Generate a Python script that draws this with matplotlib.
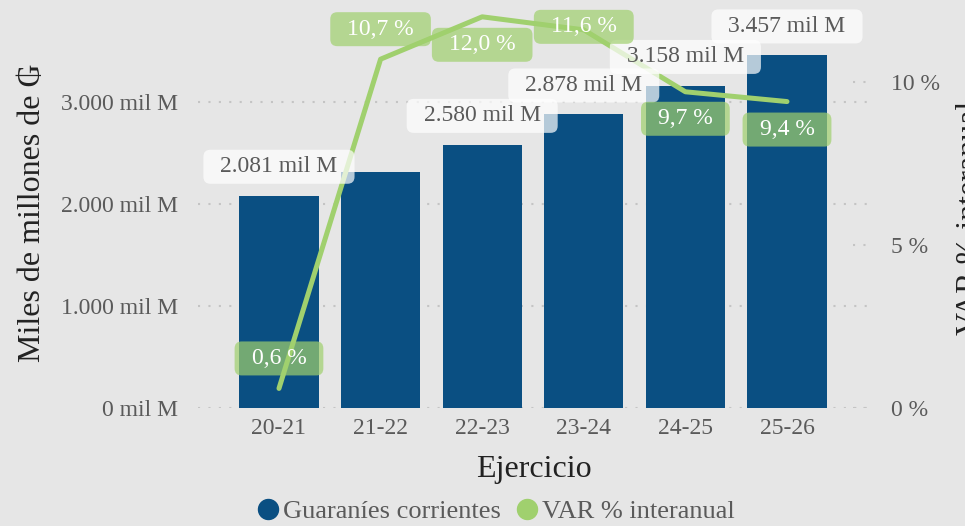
import matplotlib
matplotlib.use("Agg")
import matplotlib.pyplot as plt
from matplotlib.lines import Line2D
from matplotlib.patches import BoxStyle

plt.rcParams["font.family"] = ["Liberation Serif", "DejaVu Serif"]

ejercicios = ["20-21", "21-22", "22-23", "23-24", "24-25", "25-26"]
guaranies = [2081, 2315, 2580, 2878, 3158, 3457]  # miles de millones
var_pct = [0.6, 10.7, 12.0, 11.6, 9.7, 9.4]
bar_ticks = [0, 1000, 2000, 3000]
pct_ticks = [0, 5, 10]

# label placement (pixels) - the 21-22 label is hidden in the original
bar_label_shown = [True, False, True, True, True, True]
pct_label_dy = [30, 30, -28, 3, -27, -28]

BG = "#e6e6e6"
BLUE = "#0a4f82"
GREEN = "#a0d06e"
TICK = "#5a5a5a"
TITLE = "#222222"


def pill(px, py, r):
    # rounded box with separate horizontal / vertical padding, in pixels
    def style(x0, y0, width, height, mutation_size):
        rounder = BoxStyle.Round(pad=0, rounding_size=r / mutation_size)
        return rounder(x0 - px, y0 - py, width + 2 * px, height + 2 * py, mutation_size)

    return style


def fmt_miles(v):
    return f"{v:,.0f}".replace(",", ".") + " mil M"


def fmt_pct(p):
    return f"{p:.1f}".replace(".", ",") + " %"


W, H = 965, 526
fig = plt.figure(figsize=(W / 100, H / 100), dpi=100, facecolor=BG)
ax = fig.add_axes([198 / W, 118 / H, 672 / W, 400 / H], facecolor=BG)

x = list(range(len(ejercicios)))
ax.bar(x, guaranies, width=0.78, color=BLUE, zorder=2)
ax.set_xlim(-0.797, 5.817)
ax.set_ylim(0, 3922)
ax.set_yticks(bar_ticks)
ax.set_yticklabels([fmt_miles(v) for v in bar_ticks])
ax.set_xticks(x)
ax.set_xticklabels(ejercicios)
ax.set_axisbelow(True)
ax.yaxis.grid(True, linestyle=(0, (1, 4)), linewidth=1.5, color="#c4c4c4")
ax.tick_params(axis="y", length=0, pad=14.4, labelsize=17, labelcolor=TICK)
ax.tick_params(axis="x", length=0, pad=7, labelsize=17, labelcolor=TICK)
for s in ax.spines.values():
    s.set_visible(False)

ax.set_xlabel("Ejercicio", fontsize=23, color=TITLE)
ax.xaxis.set_label_coords(0.5, -69 / 400)
ax.xaxis.label.set_va("baseline")

ax2 = ax.twinx()
ax2.set_ylim(0, 12.27)
ax2.set_yticks(pct_ticks)
ax2.set_yticklabels([f"{p} %" for p in pct_ticks])
ax2.tick_params(axis="y", length=0, pad=15, labelsize=17, labelcolor=TICK)
for s in ax2.spines.values():
    s.set_visible(False)
for p in pct_ticks:
    ax2.axhline(p, xmin=0.975, xmax=1.0, linestyle=(0, (1, 4)), linewidth=1.5,
                color="#c4c4c4", zorder=1)

ax2.plot(x, var_pct, color=GREEN, linewidth=3.6, solid_capstyle="round",
         solid_joinstyle="round", zorder=3)

for i, v in enumerate(guaranies):
    if not bar_label_shown[i]:
        continue
    ax2.annotate(fmt_miles(v), xy=(i, v), xycoords=ax.transData,
                 xytext=(0, 29), textcoords="offset pixels",
                 ha="center", va="center", fontsize=17, color=TICK, zorder=4,
                 bbox=dict(boxstyle=pill(17, 6.5, 7), fc="white", ec="none", alpha=0.7))

for i, p in enumerate(var_pct):
    ax2.annotate(fmt_pct(p), xy=(i, p), xytext=(0, pct_label_dy[i]),
                 textcoords="offset pixels", ha="center", va="center",
                 fontsize=17, color="white", zorder=5,
                 bbox=dict(boxstyle=pill(17, 6.5, 7), fc=GREEN, ec="none", alpha=0.7))

fig.text(33 / W, 1 - 213 / H, "Miles de millones de ₲", rotation=90,
         ha="center", va="center", fontsize=23, color=TITLE)
fig.text(956 / W, 1 - 218 / H, "VAR % interanual", rotation=90,
         ha="left", va="center", fontsize=23, color=TITLE)

handles = [
    Line2D([], [], linestyle="none", marker="o", markersize=14.4, color=BLUE),
    Line2D([], [], linestyle="none", marker="o", markersize=14.4, color=GREEN),
]
leg = fig.legend(handles, ["Guaraníes corrientes", "VAR % interanual"],
                 loc="center", bbox_to_anchor=(496 / W, 1 - 511 / H), ncol=2,
                 frameon=False, fontsize=19, handlelength=0.8, handletextpad=0.15,
                 columnspacing=0.6, borderpad=0)
for t in leg.get_texts():
    t.set_color(TICK)

fig.savefig("out.png", dpi=100, facecolor=BG)
